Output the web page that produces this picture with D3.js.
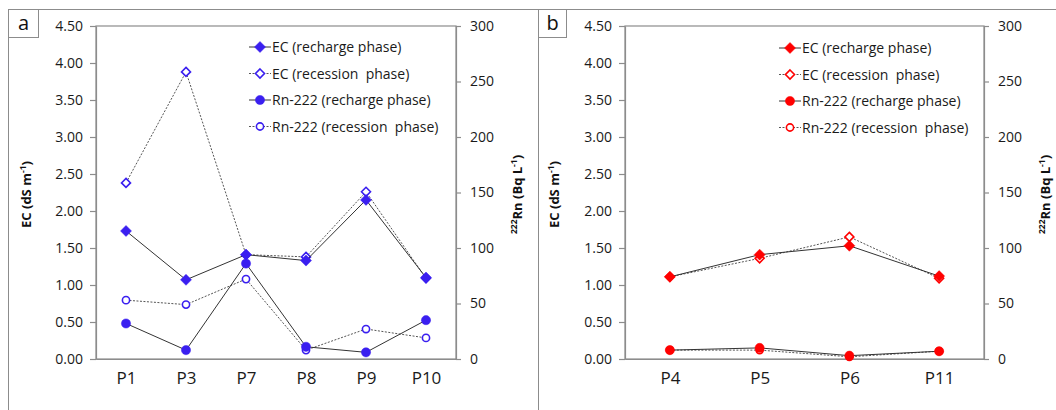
<!DOCTYPE html>
<html>
<head>
<meta charset="utf-8">
<script src="https://cdn.jsdelivr.net/npm/d3@7"></script>
<style>
  html, body { margin: 0; padding: 0; background: #fff; }
  svg { display: block; font-family: "Open Sans", "Noto Sans", sans-serif; }
</style>
</head>
<body>
<svg id="chart" width="1056" height="410"></svg>
<script>
// ---- Data: panel a (blue) ----
const sitesA = ["P1", "P3", "P7", "P8", "P9", "P10"];
const ecRechargeA = [1.73, 1.07, 1.41, 1.33, 2.15, 1.10];
const ecRecessionA = [2.38, 3.88, 1.41, 1.38, 2.26, 1.09];
const rnRechargeA = [32, 8, 86, 11, 6, 35];
const rnRecessionA = [53, 49, 72, 8, 27, 19];

// ---- Data: panel b (red) ----
const sitesB = ["P4", "P5", "P6", "P11"];
const ecRechargeB = [1.11, 1.41, 1.53, 1.12];
const ecRecessionB = [1.11, 1.36, 1.65, 1.09];
const rnRechargeB = [8, 10, 3, 7];
const rnRecessionB = [8, 8, 2, 7];

// ---- Axis ticks and labels ----
const ecTicks = [0, 0.5, 1, 1.5, 2, 2.5, 3, 3.5, 4, 4.5];
const rnTicks = [0, 50, 100, 150, 200, 250, 300];
const legendLabels = ["EC (recharge phase)", "EC (recession  phase)", "Rn-222 (recharge phase)", "Rn-222 (recession  phase)"];

const svg = d3.select("#chart");
const frameColor = "#8c8c8c";

// outer frame of both panels
svg.append("line").attr("x1", 8).attr("x2", 1056).attr("y1", 9.5).attr("y2", 9.5)
  .attr("stroke", frameColor);
svg.append("line").attr("x1", 8.5).attr("x2", 8.5).attr("y1", 9).attr("y2", 410)
  .attr("stroke", frameColor);
svg.append("line").attr("x1", 538.5).attr("x2", 538.5).attr("y1", 9).attr("y2", 410)
  .attr("stroke", frameColor);

function diamondPath(r) {
  return `M0,${-r}L${r},0L0,${r}L${-r},0Z`;
}

function drawMarker(g, kind, filled, color) {
  if (kind === "diamond") {
    g.append("path").attr("d", diamondPath(filled ? 5.5 : 4.5))
      .attr("fill", filled ? color : "#fff")
      .attr("stroke", color).attr("stroke-width", filled ? 0.5 : 1.6);
  } else {
    g.append("circle").attr("r", filled ? 4.6 : 3.6)
      .attr("fill", filled ? color : "#fff")
      .attr("stroke", color).attr("stroke-width", filled ? 0.5 : 1.6);
  }
}

function drawPanel(p) {
  const g = svg.append("g");

  // panel letter box
  g.append("rect").attr("x", p.boxX + 0.5).attr("y", 9.5).attr("width", p.letterW).attr("height", 28)
    .attr("fill", "#fff").attr("stroke", frameColor);
  g.append("text").attr("x", p.boxX + 0.5 + p.letterW / 2).attr("y", 30)
    .attr("text-anchor", "middle").attr("font-size", 20).attr("fill", "#111").text(p.letter);

  const x = d3.scalePoint().domain(p.sites).range([p.left, p.right]).padding(0.5);
  const yEc = d3.scaleLinear().domain([0, 4.5]).range([p.bottom, p.top]);
  const yRn = d3.scaleLinear().domain([0, 300]).range([p.bottom, p.top]);

  // plot area border
  g.append("rect").attr("x", p.left).attr("y", p.top)
    .attr("width", p.right - p.left).attr("height", p.bottom - p.top)
    .attr("fill", "none").attr("stroke", frameColor).attr("stroke-width", 1.2);

  // left EC axis
  const axL = d3.axisLeft(yEc).tickValues(ecTicks).tickFormat(d3.format(".2f"))
    .tickSizeInner(6).tickSizeOuter(0).tickPadding(7);
  const gl = g.append("g").attr("transform", `translate(${p.left},0)`).call(axL);
  // right Rn axis
  const axR = d3.axisRight(yRn).tickValues(rnTicks)
    .tickSizeInner(5).tickSizeOuter(0).tickPadding(9);
  const gr = g.append("g").attr("transform", `translate(${p.right},0)`).call(axR);
  // bottom category axis
  const axB = d3.axisBottom(x).tickSize(0).tickPadding(13);
  const gb = g.append("g").attr("transform", `translate(0,${p.bottom})`).call(axB);

  [gl, gr, gb].forEach(a => {
    a.select(".domain").attr("stroke", frameColor).attr("stroke-width", 1.2);
    a.selectAll(".tick line").attr("stroke", frameColor).attr("stroke-width", 1.2);
    a.selectAll("text").attr("fill", "#1a1a1a").attr("font-family", "'Open Sans', sans-serif");
  });
  gl.selectAll("text").attr("font-size", 14);
  gr.selectAll("text").attr("font-size", 14);
  gb.selectAll("text").attr("font-size", 17);

  // axis titles
  const midY = (p.top + p.bottom) / 2 + 2;
  const tl = g.append("text").attr("transform", `translate(${p.leftTitleX},${midY}) rotate(-90)`)
    .attr("text-anchor", "middle").attr("font-size", 13).attr("font-weight", "bold").attr("fill", "#111");
  tl.append("tspan").text("EC (dS m");
  tl.append("tspan").attr("font-size", 8.5).attr("dy", -5).text("-1");
  tl.append("tspan").attr("dy", 5).text(")");

  const tr = g.append("text").attr("transform", `translate(${p.rightTitleX},${midY}) rotate(-90)`)
    .attr("text-anchor", "middle").attr("font-size", 13).attr("font-weight", "bold").attr("fill", "#111");
  tr.append("tspan").attr("font-size", 8.5).attr("dy", -5).text("222");
  tr.append("tspan").attr("dy", 5).text("Rn (Bq L");
  tr.append("tspan").attr("font-size", 8.5).attr("dy", -5).text("-1");
  tr.append("tspan").attr("dy", 5).text(")");

  const series = [
    { vals: p.ecRec, y: yEc, kind: "diamond", filled: false, dashed: true },
    { vals: p.rnRec, y: yRn, kind: "circle", filled: false, dashed: true },
    { vals: p.ecCh, y: yEc, kind: "diamond", filled: true, dashed: false },
    { vals: p.rnCh, y: yRn, kind: "circle", filled: true, dashed: false }
  ];

  series.forEach(s => {
    const pts = p.sites.map((site, i) => [x(site), s.y(s.vals[i])]);
    g.append("path").attr("d", d3.line()(pts)).attr("fill", "none")
      .attr("stroke", s.dashed ? "#555" : "#333")
      .attr("stroke-width", 1)
      .attr("stroke-dasharray", s.dashed ? "2,1.5" : null);
    pts.forEach(pt => {
      const m = g.append("g").attr("transform", `translate(${pt[0]},${pt[1]})`);
      drawMarker(m, s.kind, s.filled, p.color);
    });
  });

  // legend
  const legendStyles = [
    { kind: "diamond", filled: true, dashed: false },
    { kind: "diamond", filled: false, dashed: true },
    { kind: "circle", filled: true, dashed: false },
    { kind: "circle", filled: false, dashed: true }
  ];
  legendStyles.forEach((st, i) => {
    const ly = p.legendY + i * 26.5;
    const lg = g.append("g");
    lg.append("line").attr("x1", p.legendX - 11).attr("x2", p.legendX + 11)
      .attr("y1", ly).attr("y2", ly)
      .attr("stroke", st.dashed ? "#555" : "#333").attr("stroke-width", 1)
      .attr("stroke-dasharray", st.dashed ? "2,1.5" : null);
    const m = lg.append("g").attr("transform", `translate(${p.legendX},${ly})`);
    drawMarker(m, st.kind, st.filled, p.color);
    lg.append("text").attr("x", p.legendX + 12).attr("y", ly + 5)
      .attr("font-size", 14).attr("fill", "#1a1a1a").attr("xml:space", "preserve")
      .style("white-space", "pre").text(legendLabels[i]);
  });
}

drawPanel({
  letter: "a", boxX: 8, letterW: 30,
  left: 96, right: 456, top: 26, bottom: 359,
  leftTitleX: 31, rightTitleX: 522,
  sites: sitesA, ecCh: ecRechargeA, ecRec: ecRecessionA, rnCh: rnRechargeA, rnRec: rnRecessionA,
  color: "#3a1ff0", legendX: 260, legendY: 47
});

drawPanel({
  letter: "b", boxX: 538, letterW: 28,
  left: 625, right: 984, top: 26, bottom: 359,
  leftTitleX: 559, rightTitleX: 1050,
  sites: sitesB, ecCh: ecRechargeB, ecRec: ecRecessionB, rnCh: rnRechargeB, rnRec: rnRecessionB,
  color: "#ff0000", legendX: 790, legendY: 48
});
</script>
</body>
</html>
